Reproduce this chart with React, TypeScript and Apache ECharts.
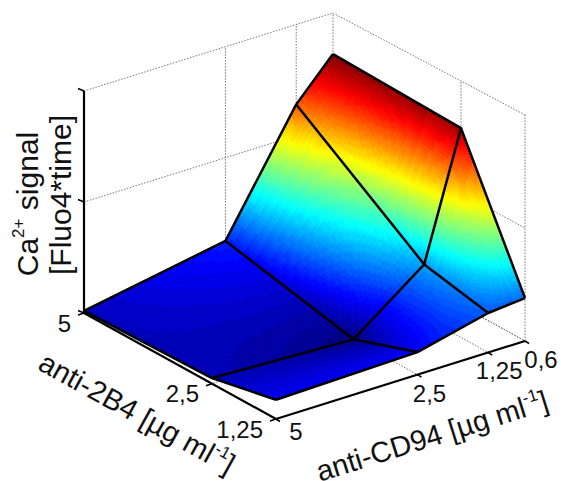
import React, { useEffect, useRef } from "react";
import * as echarts from "echarts";

const anti2B4 = [5, 2.5, 1.25];
const antiCD94 = [5, 2.5, 1.25, 0.6];
const zTicks = [0, 1, 2];
const labels2B4 = ["5", "2,5", "1,25"];
const labelsCD94 = ["5", "2,5", "1,25", "0,6"];

// one row per anti-2B4 dose, one column per anti-CD94 dose
const signal = [
  [0.02, 0.25, 1.28, 1.63],
  [0.05, 0.0, 0.47, 1.58],
  [0.17, 0.2, 0.35, 0.38],
];
// colour value of each vertex
const colourValue = [
  [0.1, 0.25, 1.28, 1.63],
  [0.09, 0.0, 0.47, 1.58],
  [0.17, 0.2, 0.35, 0.38],
];

const FONT = '"Liberation Sans", Arial, sans-serif';
const WIDTH = 561;
const HEIGHT = 481;
const SUB = 36;

// orthographic view of the box, in picture units
const ORIGIN = [84, 313];
const U = [192, 106];
const V = [249, -78];
const Z_UNIT = 111;

function project(a: number, c: number, z: number): number[] {
  const fu = (5 - a) / 3.75;
  const fv = (5 - c) / 4.4;
  return [
    ORIGIN[0] + fu * U[0] + fv * V[0],
    ORIGIN[1] + fu * U[1] + fv * V[1] - z * (Z_UNIT + 2 * fu),
  ];
}

function jet(t: number): string {
  const level = Math.min(63, Math.max(0, Math.floor(t * 64)));
  const v = (level + 0.5) / 64;
  const ch = (x: number) => Math.round(255 * Math.max(0, Math.min(1, 1.5 - Math.abs(4 * v - x))));
  return `rgb(${ch(3)},${ch(2)},${ch(1)})`;
}

function lerp2(m: number[][], i: number, j: number, s: number, t: number): number {
  return (
    m[i][j] * (1 - s) * (1 - t) +
    m[i + 1][j] * s * (1 - t) +
    m[i][j + 1] * (1 - s) * t +
    m[i + 1][j + 1] * s * t
  );
}

const quads: number[][] = [];
for (let i = 0; i < anti2B4.length - 1; i++) {
  for (let j = antiCD94.length - 2; j >= 0; j--) quads.push([i, j]);
}
const maxColour = Math.max(...colourValue.flat());

function surfacePoint(i: number, j: number, s: number, t: number): number[] {
  const a = anti2B4[i] + (anti2B4[i + 1] - anti2B4[i]) * s;
  const c = antiCD94[j] + (antiCD94[j + 1] - antiCD94[j]) * t;
  return project(a, c, lerp2(signal, i, j, s, t));
}

function renderQuad(params: any, api: any) {
  const i = api.value(0);
  const j = api.value(1);
  const children: any[] = [];
  for (let p = 0; p < SUB; p++) {
    for (let q = SUB - 1; q >= 0; q--) {
      const s0 = p / SUB;
      const s1 = (p + 1) / SUB;
      const t0 = q / SUB;
      const t1 = (q + 1) / SUB;
      const pts = [
        surfacePoint(i, j, s0, t0),
        surfacePoint(i, j, s1, t0),
        surfacePoint(i, j, s1, t1),
        surfacePoint(i, j, s0, t1),
      ].map((pt) => api.coord(pt));
      const col = jet(lerp2(colourValue, i, j, (s0 + s1) / 2, (t0 + t1) / 2) / maxColour);
      children.push({
        type: "polygon",
        shape: { points: pts },
        style: { fill: col, stroke: col, lineWidth: 1 },
      });
    }
  }
  return { type: "group", children };
}

function line(api: any, pts: number[][], style: any) {
  return {
    type: "polyline",
    shape: { points: pts.map((p) => api.coord(p)) },
    style: { fill: "none", ...style },
  };
}

function renderGrid(params: any, api: any) {
  const dotted = { stroke: "#777", lineWidth: 1, lineDash: [1.5, 1.5] };
  const children: any[] = [];
  const back2B4 = anti2B4[0];
  const backCD94 = antiCD94[antiCD94.length - 1];
  const front2B4 = anti2B4[anti2B4.length - 1];
  const frontCD94 = antiCD94[0];
  zTicks.forEach((z) => {
    children.push(
      line(api, [project(back2B4, frontCD94, z), project(back2B4, backCD94, z), project(front2B4, backCD94, z)], dotted)
    );
  });
  antiCD94.slice(1).forEach((c) => {
    children.push(line(api, [project(back2B4, c, 0), project(back2B4, c, 2)], dotted));
    children.push(line(api, [project(back2B4, c, 0), project(front2B4, c, 0)], dotted));
  });
  anti2B4.slice(1).forEach((a) => {
    children.push(line(api, [project(a, backCD94, 0), project(a, backCD94, 2)], dotted));
    children.push(line(api, [project(a, backCD94, 0), project(a, frontCD94, 0)], dotted));
  });
  return { type: "group", children };
}

function renderMesh(params: any, api: any) {
  const black = { stroke: "#000", lineWidth: 2.5, lineJoin: "round" };
  const children: any[] = [];
  anti2B4.forEach((a, i) => {
    children.push(line(api, antiCD94.map((c, j) => project(a, c, signal[i][j])), black));
  });
  antiCD94.forEach((c, j) => {
    children.push(line(api, anti2B4.map((a, i) => project(a, c, signal[i][j])), black));
  });
  return { type: "group", children };
}

function tickText(api: any, at: number[], dx: number, dy: number, text: string, align: string) {
  const p = api.coord(at);
  return {
    type: "text",
    x: p[0] + dx,
    y: p[1] + dy,
    style: { text, fill: "#111", font: `24px ${FONT}`, align, verticalAlign: "middle" },
  };
}

const offsetsCD94 = [[20, 12], [12, 19], [11, 18], [16, 18]];

function renderAxes(params: any, api: any) {
  const black = { stroke: "#000", lineWidth: 2.2 };
  const thin = { stroke: "#000", lineWidth: 1.5 };
  const children: any[] = [];
  const a0 = anti2B4[0];
  const a1 = anti2B4[anti2B4.length - 1];
  const c0 = antiCD94[0];
  const c1 = antiCD94[antiCD94.length - 1];
  children.push(line(api, [project(a0, c0, 2), project(a0, c0, 0)], black));
  children.push(line(api, [project(a0, c0, 0), project(a1, c0, 0)], black));
  children.push(line(api, [project(a1, c0, 0), project(a1, c1, 0)], black));
  zTicks.forEach((z) => {
    const p = project(a0, c0, z);
    children.push(line(api, [p, [p[0] - 6, p[1] - 2.5]], thin));
  });
  anti2B4.forEach((a, i) => {
    const p = project(a, c0, 0);
    children.push(line(api, [p, [p[0] - 6, p[1] + 2]], thin));
    children.push(tickText(api, p, -13, 10, labels2B4[i], "right"));
  });
  antiCD94.forEach((c, j) => {
    const p = project(a1, c, 0);
    children.push(line(api, [p, [p[0] + 4, p[1] + 2.5]], thin));
    children.push(tickText(api, p, offsetsCD94[j][0], offsetsCD94[j][1], labelsCD94[j], "center"));
  });
  return { type: "group", children };
}

function title(x: number, y: number, deg: number, text: string, size: number) {
  return {
    type: "text",
    x,
    y,
    rotation: (deg * Math.PI) / 180,
    silent: true,
    style: {
      text,
      align: "center",
      verticalAlign: "middle",
      fill: "#111",
      rich: {
        n: { font: `${size}px ${FONT}`, fill: "#111", lineHeight: size + 4 },
        s: { font: `${Math.round(size * 0.57)}px ${FONT}`, fill: "#111", lineHeight: size + 4, verticalAlign: "top" },
      },
    },
  };
}

export default function App() {
  const ref = useRef<HTMLDivElement>(null);
  useEffect(() => {
    const chart = echarts.init(ref.current!, null, { renderer: "svg" });
    const base = {
      type: "custom",
      coordinateSystem: "cartesian2d",
      silent: true,
      clip: false,
      encode: { x: 0, y: 1 },
    };
    chart.setOption({
      animation: false,
      backgroundColor: "#fff",
      grid: { left: 0, right: 0, top: 0, bottom: 0 },
      xAxis: { type: "value", min: 0, max: WIDTH, show: false },
      yAxis: { type: "value", min: 0, max: HEIGHT, inverse: true, show: false },
      series: [
        { ...base, data: [[0, 0]], renderItem: renderGrid, z: 1 },
        { ...base, data: quads, renderItem: renderQuad, z: 2 },
        { ...base, data: [[0, 0]], renderItem: renderAxes, z: 3 },
        { ...base, data: [[0, 0]], renderItem: renderMesh, z: 4 },
      ],
      graphic: [
        title(27, 204, 90, "{n|Ca}{s|2+}{n| signal}", 30),
        title(60, 195, 90, "{n|[Fluo4*time]}", 30),
        title(137, 413, -29, "{n|anti-2B4 [µg ml}{s|-1}{n|]}", 29),
        title(432, 436, 17.5, "{n|anti-CD94 [µg ml}{s|-1}{n|]}", 29),
      ],
    });
    return () => chart.dispose();
  }, []);
  return (
    <div
      ref={ref}
      style={{ position: "absolute", left: 0, top: 0, width: WIDTH, height: HEIGHT }}
    />
  );
}
